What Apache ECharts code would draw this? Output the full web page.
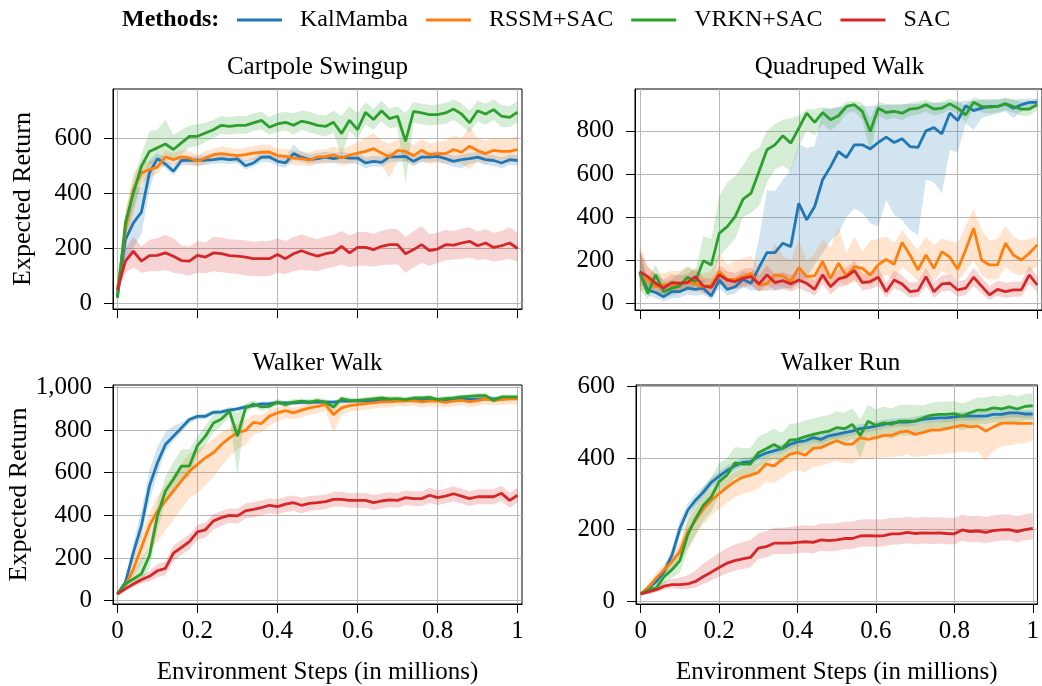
<!DOCTYPE html>
<html>
<head>
<meta charset="utf-8">
<script src="https://cdn.jsdelivr.net/npm/echarts@6/dist/echarts.min.js"></script>
<style>
html,body{margin:0;padding:0;background:#fff;}
#chart{width:1042px;height:686px;}
</style>
</head>
<body>
<div id="chart"></div>
<script>
// ---------------- DATA ----------------
const steps = [0,0.02,0.04,0.06,0.08,0.1,0.12,0.14,0.16,0.18,0.2,0.22,0.24,0.26,0.28,0.3,0.32,0.34,0.36,0.38,0.4,0.42,0.44,0.46,0.48,0.5,0.52,0.54,0.56,0.58,0.6,0.62,0.64,0.66,0.68,0.7,0.72,0.74,0.76,0.78,0.8,0.82,0.84,0.86,0.88,0.9,0.92,0.94,0.96,0.98,1];
const methods = ['KalMamba', 'RSSM+SAC', 'VRKN+SAC', 'SAC'];
const panelTitles = ['Cartpole Swingup', 'Quadruped Walk', 'Walker Walk', 'Walker Run'];
const xTickValues = [0, 0.2, 0.4, 0.6, 0.8, 1];
const yTicksCartpole = [0, 200, 400, 600];
const yTicksQuadruped = [0, 200, 400, 600, 800];
const yTicksWalkerWalk = [0, 200, 400, 600, 800, 1000];
const yTicksWalkerRun = [0, 200, 400, 600];

// Cartpole Swingup
const cartpoleKalMamba = [24,230,291,330,473,525,505,479,518,519,519,519,521,525,521,524,499,509,530,531,515,509,543,530,521,525,530,525,530,527,527,509,515,511,531,531,533,515,530,530,533,525,515,521,525,530,521,518,509,521,518];
const cartpoleKalMambaLo = [15,150,200,250,410,505,490,465,500,500,500,502,505,508,505,508,485,495,512,512,498,492,520,512,505,508,512,508,510,508,505,490,498,495,512,512,515,498,512,512,515,505,495,490,505,512,502,498,490,502,500];
const cartpoleKalMambaHi = [35,300,420,420,520,545,525,500,535,535,535,537,540,542,538,540,518,528,548,550,535,530,576,550,540,545,550,545,550,545,548,530,535,532,550,550,552,535,550,550,552,545,535,540,545,550,540,537,530,540,537];
const cartpoleRSSM = [45,267,412,473,485,494,531,521,531,527,515,527,539,543,539,536,539,545,548,549,536,533,527,525,519,531,531,539,527,537,545,551,561,545,531,555,551,536,555,539,543,543,558,548,570,554,543,555,551,551,558];
const cartpoleRSSMLo = [30,200,330,430,455,470,505,500,510,505,495,505,515,520,515,512,515,520,522,522,510,508,502,500,495,505,505,512,500,505,515,515,520,500,455,515,515,500,515,505,510,505,515,505,485,515,505,515,510,510,520];
const cartpoleRSSMHi = [60,330,470,510,515,520,555,545,555,552,540,552,562,568,565,560,565,570,575,575,562,560,555,552,548,558,560,568,560,570,585,600,618,590,580,595,590,575,595,580,585,590,610,600,642,600,590,600,598,598,605];
const cartpoleVRKN = [18,291,400,497,551,564,578,558,582,606,606,618,630,646,642,646,646,655,664,639,651,657,646,661,655,646,642,657,616,664,630,693,667,699,670,679,588,697,691,685,685,691,705,687,655,699,687,703,679,675,694];
const cartpoleVRKNLo = [10,240,340,440,500,520,530,520,540,565,570,585,600,615,612,615,615,625,632,612,622,628,612,630,620,612,605,620,533,625,595,650,630,660,635,640,436,655,650,645,648,652,665,645,620,660,648,665,640,640,655];
const cartpoleVRKNHi = [30,330,450,540,624,630,667,610,630,645,650,655,665,680,675,680,680,690,695,675,690,695,690,700,695,685,682,700,680,715,690,730,705,735,705,715,690,730,725,720,722,728,740,725,700,735,725,740,720,715,735];
const cartpoleSAC = [48,152,188,152,172,173,182,170,154,152,173,167,182,179,172,170,167,161,161,161,176,161,179,190,179,170,179,184,206,182,202,202,194,206,212,212,179,194,212,190,196,212,210,218,224,208,218,202,208,218,198];
const cartpoleSACLo = [35,110,130,110,115,115,120,110,105,100,110,108,115,112,108,105,100,97,97,98,110,105,115,120,118,115,125,130,140,130,135,135,132,138,140,140,109,130,145,135,145,155,158,160,165,155,160,150,155,160,150];
const cartpoleSACHi = [60,200,240,205,230,235,248,235,210,205,225,220,240,238,232,230,228,222,225,225,235,225,240,250,240,232,242,248,262,245,258,258,252,262,270,268,240,262,279,250,255,265,262,270,275,260,268,255,262,275,255];

// Quadruped Walk
const quadKalMamba = [140,62,50,31,54,54,70,65,70,34,108,65,77,111,93,166,235,235,279,263,464,387,449,573,634,704,676,735,735,716,746,771,746,763,727,723,800,815,786,882,848,916,894,905,913,913,925,905,921,932,932];
const quadKalMambaLo = [110,35,25,10,25,25,40,35,40,15,70,35,45,75,60,60,60,60,70,70,90,120,180,232,290,325,400,440,420,371,356,480,410,387,340,317,573,560,511,711,700,835,805,860,870,880,890,860,890,905,910];
const quadKalMambaHi = [250,100,85,70,90,90,110,100,110,75,145,100,115,150,130,300,526,520,573,620,740,720,730,900,905,910,910,915,915,915,920,920,920,925,925,925,930,930,930,935,935,940,940,945,945,945,950,945,948,950,950];
const quadRSSM = [124,108,77,85,85,90,101,90,77,85,147,111,111,124,139,85,90,132,127,101,167,124,127,193,116,186,127,170,162,132,178,204,181,282,224,155,224,162,240,214,158,248,348,201,178,178,279,224,201,232,271];
const quadRSSMLo = [60,60,45,50,55,55,60,55,50,55,90,70,70,80,90,55,60,80,80,65,100,80,80,110,70,105,80,100,95,80,110,130,110,170,140,100,140,100,150,130,100,150,200,130,110,110,170,140,130,150,170];
const quadRSSMHi = [263,170,140,140,150,150,170,150,140,150,230,180,200,209,220,170,200,279,220,200,294,200,230,300,260,356,230,310,240,290,300,310,280,340,290,250,310,270,300,290,280,360,441,340,290,300,360,310,290,300,310];
const quadVRKN = [147,46,132,54,70,80,121,101,198,178,325,356,402,483,511,611,712,735,777,743,812,882,839,885,851,870,913,921,890,797,905,885,890,882,901,905,921,901,905,925,905,874,932,913,910,913,925,913,901,901,921];
const quadVRKNLo = [60,20,80,25,35,45,70,60,100,93,216,260,300,400,420,450,560,620,640,610,727,800,780,830,800,830,880,890,850,700,870,850,860,850,870,875,890,870,880,895,880,840,900,885,880,885,895,885,870,870,895];
const quadVRKNHi = [240,110,180,100,110,140,170,150,310,300,495,560,590,640,700,720,800,830,850,860,870,900,900,910,900,910,935,940,930,860,935,925,925,920,930,935,945,930,935,950,935,920,955,945,945,945,955,945,935,935,950];
const quadSAC = [147,124,93,70,96,93,96,124,80,74,132,108,101,116,124,90,132,96,105,90,108,93,65,132,77,113,124,152,96,101,121,54,108,90,54,59,124,54,90,93,62,70,121,80,39,65,54,62,62,132,85];
const quadSACLo = [80,80,55,40,60,55,60,80,45,40,90,70,65,75,80,55,90,60,65,55,70,55,35,90,40,75,85,110,60,65,80,25,70,55,25,30,80,25,55,60,30,40,80,45,15,35,25,30,30,90,50];
const quadSACHi = [248,170,135,110,135,130,135,165,120,115,175,150,140,160,165,130,175,135,145,130,150,135,105,175,120,155,165,200,140,140,165,95,150,130,95,100,165,95,130,135,100,110,165,120,80,105,95,100,100,175,125];

// Walker Walk
const walkKalMamba = [31,86,226,350,537,646,732,771,810,849,864,864,883,885,893,899,908,914,922,924,927,927,927,930,930,931,931,931,935,935,938,936,938,939,938,939,941,939,941,942,942,943,943,944,944,945,946,946,947,947,948];
const walkKalMambaLo = [25,75,180,300,470,590,700,750,790,830,850,852,872,875,883,889,898,904,912,914,917,917,917,920,920,921,921,921,925,925,928,926,928,929,928,929,931,929,931,932,932,933,933,934,934,935,936,936,937,937,938];
const walkKalMambaHi = [38,100,270,420,610,720,790,820,835,860,875,877,894,896,903,909,918,924,932,934,937,937,937,940,940,941,941,941,945,945,948,946,948,949,948,949,951,949,951,952,952,953,953,954,954,955,956,956,957,957,958];
const walkRSSM = [31,70,148,249,350,420,467,514,561,607,639,670,693,732,763,787,798,836,830,865,880,891,880,893,904,911,919,872,904,914,919,924,927,932,932,935,935,938,932,935,935,930,935,939,932,938,946,939,943,946,946];
const walkRSSMLo = [25,60,110,180,250,272,330,380,430,480,506,540,580,630,677,710,730,780,790,820,840,855,850,860,870,880,890,786,870,885,890,895,900,905,905,910,910,912,905,910,910,905,910,915,905,912,920,915,918,920,920];
const walkRSSMHi = [38,85,190,310,410,490,540,590,640,690,709,730,760,790,810,830,849,870,870,895,905,915,905,915,925,930,935,910,925,935,940,942,945,950,950,952,952,955,950,952,952,950,952,955,950,955,960,955,958,960,960];
const walkVRKN = [31,78,101,125,210,397,514,569,631,631,727,771,833,852,888,771,903,922,908,911,931,919,931,935,931,938,931,908,947,939,938,942,946,950,946,947,942,950,950,953,942,947,950,955,958,961,961,939,955,955,955];
const walkVRKNLo = [25,65,80,90,150,330,460,500,560,580,680,730,790,820,860,592,880,905,890,895,918,905,918,922,918,925,918,880,935,927,926,930,934,938,934,935,930,938,938,941,930,935,938,943,946,949,949,925,943,943,943];
const walkVRKNHi = [38,90,130,200,250,460,580,650,709,710,770,820,870,890,910,880,925,940,925,928,945,935,945,948,945,951,945,930,960,952,950,955,958,962,958,960,955,962,962,965,955,960,962,967,970,973,973,955,967,967,967];
const walkSAC = [31,55,78,98,114,140,151,223,249,276,322,332,374,389,400,397,421,428,436,447,441,452,459,447,456,459,464,475,475,470,470,470,459,467,472,470,483,478,478,494,483,490,501,490,478,487,487,487,503,470,494];
const walkSACLo = [25,45,65,80,90,110,120,185,215,240,285,295,335,350,365,360,385,390,400,410,405,415,420,410,420,425,428,440,440,435,435,435,425,432,438,435,448,443,443,458,448,455,465,455,443,452,452,452,467,435,460];
const walkSACHi = [38,65,90,115,140,170,185,260,285,310,355,365,405,420,432,430,455,462,470,480,475,487,493,482,490,493,498,510,510,505,505,505,495,502,508,505,518,513,513,530,518,525,536,525,513,522,522,522,538,505,530];

// Walker Run
const runKalMamba = [20,37,55,83,129,203,254,282,305,332,349,365,378,388,390,404,414,420,426,438,445,448,457,452,462,466,471,475,482,485,489,494,498,500,500,503,508,510,512,512,515,517,517,517,517,522,522,526,526,523,523];
const runKalMambaLo = [15,30,45,70,110,180,235,265,290,318,336,352,366,376,378,392,402,408,414,426,433,436,445,440,450,454,459,463,470,473,477,482,486,488,488,491,496,498,500,500,503,505,505,505,505,510,510,514,514,511,511];
const runKalMambaHi = [25,45,65,96,148,225,272,300,320,346,362,378,390,400,402,416,426,432,438,450,457,460,469,464,474,478,483,487,494,497,501,506,510,512,512,515,520,522,524,524,527,529,529,529,529,534,534,538,538,535,535];
const runRSSM = [20,39,65,88,111,138,194,226,258,282,300,318,334,346,352,360,383,378,395,410,415,408,427,429,439,448,439,439,457,452,457,463,463,472,475,466,471,478,478,482,487,491,487,489,475,487,497,498,497,497,497];
const runRSSMLo = [15,30,50,70,90,110,150,185,215,240,258,275,290,300,305,315,335,330,345,360,365,360,375,378,385,392,385,385,400,395,400,402,402,405,410,402,405,410,410,412,415,418,415,418,392,420,432,435,440,442,448];
const runRSSMHi = [25,48,80,105,130,165,225,258,290,312,330,345,360,372,378,386,408,405,420,435,440,435,452,455,465,472,466,466,482,478,482,488,488,496,500,492,496,503,503,507,512,516,512,514,505,512,520,522,521,521,521];
const runVRKN = [20,32,37,69,88,113,185,231,268,291,334,352,386,383,383,415,426,438,426,450,452,460,466,471,475,485,482,494,463,503,491,498,494,503,503,503,512,519,522,522,524,517,526,534,534,540,537,543,537,544,546];
const runVRKNLo = [15,25,30,50,65,80,140,185,225,250,295,315,345,345,345,375,385,398,385,410,412,420,426,431,435,445,442,454,400,463,451,458,454,463,463,463,472,479,482,482,484,477,486,494,494,500,497,503,497,504,506];
const runVRKNHi = [25,40,50,90,115,150,230,280,320,345,385,400,430,428,428,460,470,482,470,495,497,505,511,516,520,530,527,539,508,548,536,543,539,548,548,548,547,554,557,557,559,552,561,569,569,575,572,578,572,579,581];
const runSAC = [20,26,32,42,46,46,48,55,69,81,94,106,113,118,122,148,152,162,162,162,164,166,164,171,169,171,175,175,182,183,182,183,188,188,192,189,191,190,191,189,188,199,194,196,192,197,199,200,194,200,203];
const runSACLo = [15,20,25,32,36,34,34,38,48,58,68,78,85,90,94,118,122,132,132,132,134,136,134,141,139,141,145,145,152,153,152,153,158,158,162,159,161,160,161,159,158,169,164,166,162,167,169,170,164,170,173];
const runSACHi = [25,32,40,55,62,66,72,85,105,120,135,148,158,165,170,190,195,205,205,207,210,212,210,218,216,218,222,222,228,229,228,229,233,233,236,233,235,234,235,233,232,242,237,239,235,240,242,243,237,243,246];

// ---------------- LAYOUT / STYLE ----------------
const FONT = "'Liberation Serif', 'Times New Roman', serif";
const lineColors = ['#1f77b4', '#ff7f0e', '#2ca02c', '#d62728'];
const bandColors = ['rgba(31,119,180,0.2)', 'rgba(255,127,14,0.2)', 'rgba(44,160,44,0.2)', 'rgba(214,39,40,0.2)'];

const panels = [
  { left: 113, top: 89, width: 409, height: 220, xMin: -0.011, xMax: 1.011, yMin: -22, yMax: 778, yTicks: yTicksCartpole, xLabels: false, yName: true,
    series: [[cartpoleKalMamba, cartpoleKalMambaLo, cartpoleKalMambaHi], [cartpoleRSSM, cartpoleRSSMLo, cartpoleRSSMHi], [cartpoleVRKN, cartpoleVRKNLo, cartpoleVRKNHi], [cartpoleSAC, cartpoleSACLo, cartpoleSACHi]] },
  { left: 635, top: 89, width: 409, height: 221, xMin: -0.012, xMax: 1.012, yMin: -31, yMax: 994, yTicks: yTicksQuadruped, xLabels: false, yName: false,
    series: [[quadKalMamba, quadKalMambaLo, quadKalMambaHi], [quadRSSM, quadRSSMLo, quadRSSMHi], [quadVRKN, quadVRKNLo, quadVRKNHi], [quadSAC, quadSACLo, quadSACHi]] },
  { left: 113, top: 385, width: 409, height: 220, xMin: -0.011, xMax: 1.011, yMin: -16, yMax: 1011, yTicks: yTicksWalkerWalk, xLabels: true, yName: true,
    series: [[walkKalMamba, walkKalMambaLo, walkKalMambaHi], [walkRSSM, walkRSSMLo, walkRSSMHi], [walkVRKN, walkVRKNLo, walkVRKNHi], [walkSAC, walkSACLo, walkSACHi]] },
  { left: 636, top: 385, width: 409, height: 221, xMin: -0.012, xMax: 1.012, yMin: -8, yMax: 604, yTicks: yTicksWalkerRun, xLabels: true, yName: false,
    series: [[runKalMamba, runKalMambaLo, runKalMambaHi], [runRSSM, runRSSMLo, runRSSMHi], [runVRKN, runVRKNLo, runVRKNHi], [runSAC, runSACLo, runSACHi]] }
];

function fmtY(v) { return String(v).replace(/\B(?=(\d{3})+(?!\d))/g, ','); }

const grids = [], xAxes = [], yAxes = [], series = [], graphics = [];

panels.forEach((p, g) => {
  grids.push({ left: p.left, top: p.top, width: p.width, height: p.height, show: true, borderColor: '#000', borderWidth: 1, backgroundColor: 'transparent' });
  xAxes.push({
    type: 'value', gridIndex: g, min: p.xMin, max: p.xMax,
    axisLine: { show: true, onZero: false, lineStyle: { color: '#000', width: 1 } },
    axisTick: { show: true, inside: false, length: 9, customValues: xTickValues, lineStyle: { color: '#000', width: 1 } },
    axisLabel: { show: p.xLabels, customValues: xTickValues, margin: 15, color: '#000', fontSize: 25, fontFamily: FONT, formatter: v => String(v) },
    splitLine: { show: true, lineStyle: { color: '#b8b8b8', width: 1 } },
    name: p.xLabels ? 'Environment Steps (in millions)' : '',
    nameLocation: 'middle', nameGap: 56,
    nameTextStyle: { color: '#000', fontSize: 25, fontFamily: FONT }
  });
  yAxes.push({
    type: 'value', gridIndex: g, min: p.yMin, max: p.yMax,
    axisLine: { show: true, onZero: false, lineStyle: { color: '#000', width: 1 } },
    axisTick: { show: true, inside: false, length: 9, customValues: p.yTicks, lineStyle: { color: '#000', width: 1 } },
    axisLabel: { show: true, customValues: p.yTicks, margin: 21, color: '#000', fontSize: 25, fontFamily: FONT, formatter: v => fmtY(v) },
    splitLine: { show: true, lineStyle: { color: '#b8b8b8', width: 1 } },
    name: p.yName ? 'Expected Return' : '',
    nameLocation: 'middle', nameRotate: 90, nameGap: 77,
    nameTextStyle: { color: '#000', fontSize: 26, fontFamily: FONT }
  });
  graphics.push({
    type: 'text', x: p.left + p.width / 2, y: p.top - 22, silent: true,
    style: { text: panelTitles[g], textAlign: 'center', textVerticalAlign: 'middle', fill: '#000', font: '25px ' + FONT }
  });
  p.series.forEach((s, k) => {
    const mean = s[0], lo = s[1], hi = s[2];
    series.push({
      type: 'custom', xAxisIndex: g, yAxisIndex: g, silent: true, z: 2,
      data: [[steps[0], mean[0]]],
      renderItem: function (params, api) {
        const pts = [];
        for (let i = 0; i < steps.length; i++) pts.push(api.coord([steps[i], hi[i]]));
        for (let i = steps.length - 1; i >= 0; i--) pts.push(api.coord([steps[i], lo[i]]));
        return { type: 'polygon', shape: { points: pts }, style: { fill: bandColors[k], stroke: null } };
      }
    });
  });
  p.series.forEach((s, k) => {
    series.push({
      type: 'line', name: methods[k], xAxisIndex: g, yAxisIndex: g, z: 3,
      data: steps.map((x, i) => [x, s[0][i]]),
      showSymbol: false, symbol: 'none',
      lineStyle: { color: lineColors[k], width: 2.8 },
      itemStyle: { color: lineColors[k] }
    });
  });
});

graphics.push({
  type: 'text', x: 122, y: 20, silent: true,
  style: { text: 'Methods:', textAlign: 'left', textVerticalAlign: 'middle', fill: '#000', font: 'bold 24px ' + FONT }
});

const chart = echarts.init(document.getElementById('chart'), null, { renderer: 'canvas' });
chart.setOption({
  animation: false,
  backgroundColor: '#fff',
  color: lineColors,
  legend: {
    data: methods, left: 237, top: 8, padding: 0,
    icon: 'rect', itemWidth: 45, itemHeight: 3, itemGap: 18,
    selectedMode: false,
    textStyle: { color: '#000', fontSize: 24, fontFamily: FONT, padding: [0, 0, 0, 13] }
  },
  grid: grids,
  xAxis: xAxes,
  yAxis: yAxes,
  graphic: graphics,
  series: series
});
</script>
</body>
</html>
